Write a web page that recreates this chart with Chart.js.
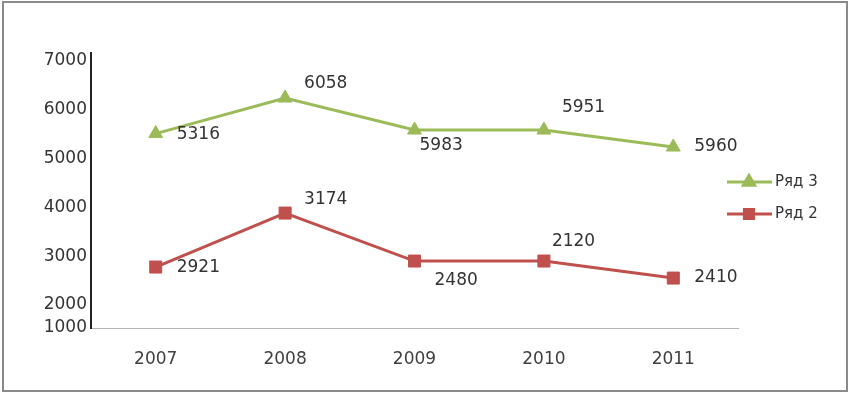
<!DOCTYPE html>
<html>
<head>
<meta charset="utf-8">
<script src="https://cdn.jsdelivr.net/npm/chart.js@4/dist/chart.umd.min.js"></script>
<style>
  html, body { margin: 0; padding: 0; background: #fff; }
  #wrap { width: 850px; height: 394px; position: relative; }
</style>
</head>
<body>
<div id="wrap"><canvas id="chart" width="850" height="394"></canvas></div>
<script>
// Chart data
const years = ['2007', '2008', '2009', '2010', '2011'];
const row3Values = [5514, 6242, 5586, 5586, 5238];
const row2Values = [2779, 3885, 2902, 2902, 2553];
const row3Labels = ['5316', '6058', '5983', '5951', '5960'];
const row2Labels = ['2921', '3174', '2480', '2120', '2410'];
const yTickValues = [1530, 2000, 3000, 4000, 5000, 6000, 7000];
const yTickLabels = ['1000', '2000', '3000', '4000', '5000', '6000', '7000'];

const colors = {
    green: '#9bbb59',
    red: '#c0504d',
    text: '#333333',
    frame: '#8a8a8a'
};

const fontFamily = '"DejaVu Sans", Verdana, sans-serif';

// where each value label sits relative to its point (dx to left edge, dy to middle)
const labelOffsets = [
    [[21, 1], [19, -14], [5, 16], [18, -22], [21, 0]],
    [[21, 1], [19, -13], [20, 20], [8, -19], [21, 0]]
];

// frame + white background
const framePlugin = {
    id: 'frame',
    beforeDraw(chart) {
        const ctx = chart.ctx;
        ctx.save();
        ctx.fillStyle = '#fff';
        ctx.fillRect(0, 0, chart.width, chart.height);
        ctx.strokeStyle = colors.frame;
        ctx.lineWidth = 2;
        ctx.strokeRect(3, 2, 844, 389);
        ctx.restore();
    }
};

// value labels next to the points
const valueLabelPlugin = {
    id: 'valueLabels',
    afterDatasetsDraw(chart) {
        const ctx = chart.ctx;
        const texts = [row3Labels, row2Labels];
        ctx.save();
        ctx.font = '17px ' + fontFamily;
        ctx.fillStyle = colors.text;
        ctx.textAlign = 'left';
        ctx.textBaseline = 'middle';
        chart.data.datasets.forEach((ds, i) => {
            const meta = chart.getDatasetMeta(i);
            meta.data.forEach((pt, j) => {
                const off = labelOffsets[i][j];
                ctx.fillText(texts[i][j], pt.x + off[0], pt.y + off[1]);
            });
        });
        ctx.restore();
    }
};

// legend drawn on the right: line with marker, then name
const legendPlugin = {
    id: 'sideLegend',
    afterDraw(chart) {
        const ctx = chart.ctx;
        const rows = [
            { ds: chart.data.datasets[0], y: 182 },
            { ds: chart.data.datasets[1], y: 214 }
        ];
        ctx.save();
        rows.forEach(row => {
            ctx.strokeStyle = row.ds.borderColor;
            ctx.lineWidth = 3;
            ctx.beginPath();
            ctx.moveTo(727, row.y);
            ctx.lineTo(772, row.y);
            ctx.stroke();
            Chart.helpers.drawPoint(ctx, {
                pointStyle: row.ds.pointStyle,
                radius: 6.5,
                borderWidth: 1
            }, 749, row.y);
            ctx.fillStyle = row.ds.borderColor;
            ctx.fill();
            ctx.fillStyle = colors.text;
            ctx.font = '15px ' + fontFamily;
            ctx.textAlign = 'left';
            ctx.textBaseline = 'middle';
            ctx.fillText(row.ds.label, 775, row.y);
        });
        ctx.restore();
    }
};

new Chart(document.getElementById('chart'), {
    type: 'line',
    data: {
        labels: years,
        datasets: [{
            label: 'Ряд 3',
            data: row3Values,
            borderColor: colors.green,
            backgroundColor: colors.green,
            borderWidth: 3,
            pointStyle: 'triangle',
            pointRadius: 8,
            pointBorderWidth: 1,
            tension: 0
        }, {
            label: 'Ряд 2',
            data: row2Values,
            borderColor: colors.red,
            backgroundColor: colors.red,
            borderWidth: 3,
            pointStyle: 'rect',
            pointRadius: 8.5,
            pointBorderWidth: 1,
            tension: 0
        }]
    },
    options: {
        responsive: false,
        animation: false,
        layout: {
            padding: { left: 0, top: 53, right: 112, bottom: 0 }
        },
        plugins: {
            legend: { display: false },
            tooltip: { enabled: false }
        },
        scales: {
            x: {
                offset: true,
                grid: { display: false, drawTicks: false },
                border: { display: true, color: '#b4b4b4', width: 1 },
                ticks: {
                    color: '#404040',
                    padding: 21,
                    font: { family: fontFamily, size: 17 }
                },
                afterFit(scale) { scale.height = 66; }
            },
            y: {
                min: 1530,
                max: 7165,
                grid: { display: false, drawTicks: false },
                border: { display: true, color: '#222', width: 2 },
                afterBuildTicks(scale) {
                    scale.ticks = yTickValues.map(v => ({ value: v }));
                },
                ticks: {
                    color: colors.text,
                    padding: 4,
                    font: { family: fontFamily, size: 17 },
                    callback(value) {
                        const idx = yTickValues.indexOf(value);
                        return idx >= 0 ? yTickLabels[idx] : '';
                    }
                },
                afterFit(scale) { scale.width = 91; }
            }
        }
    },
    plugins: [framePlugin, valueLabelPlugin, legendPlugin]
});
</script>
</body>
</html>
